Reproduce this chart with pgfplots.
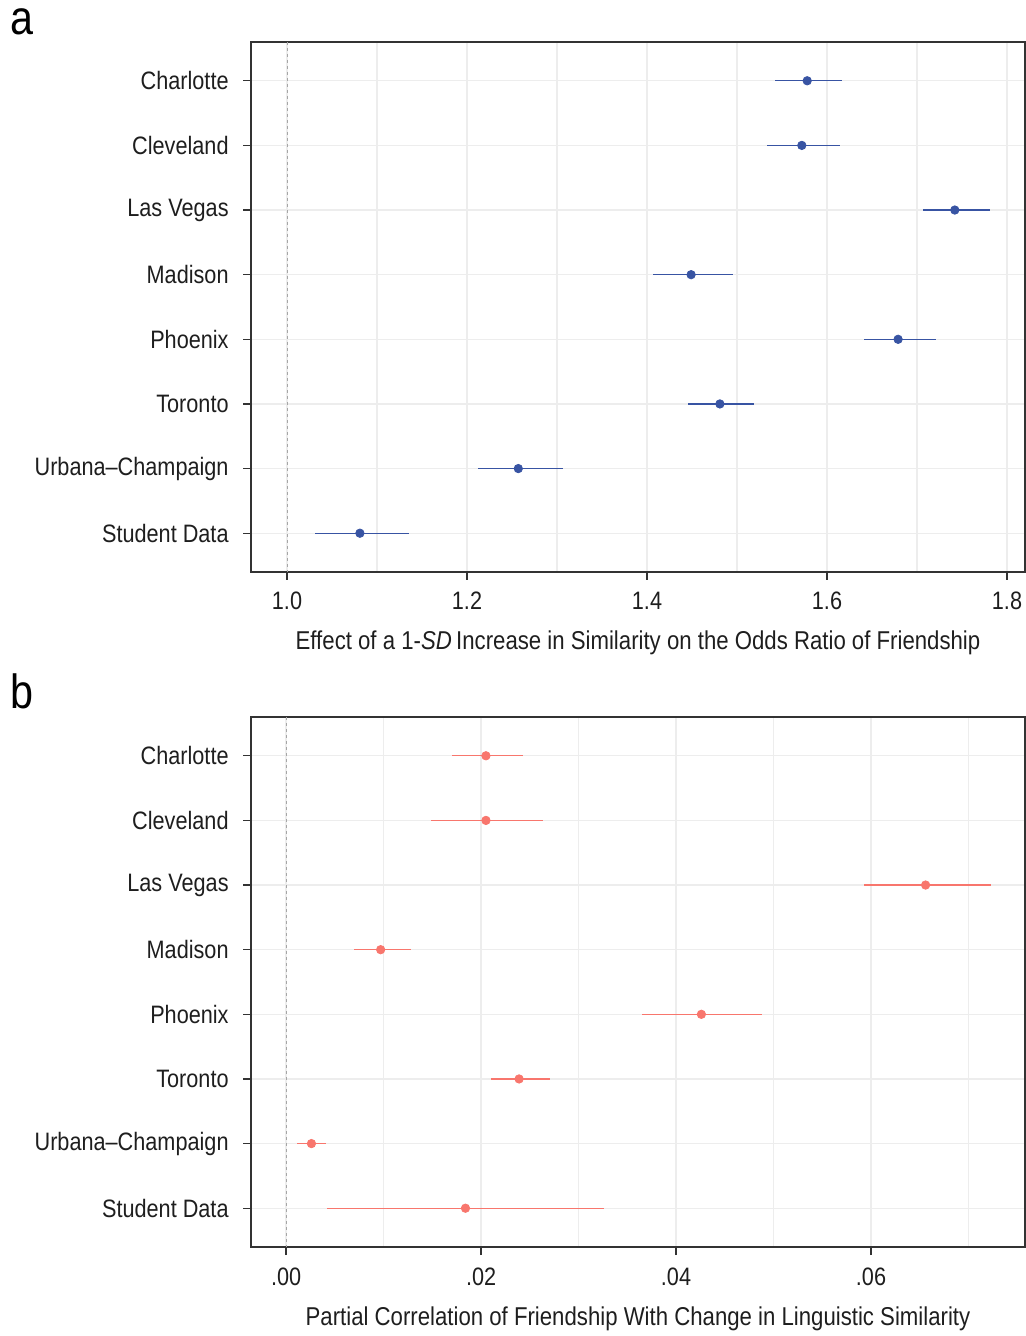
\documentclass[border=0pt]{standalone}
\usepackage{fontspec}
\setmainfont{Liberation Sans}[FakeStretch=0.86]
\usepackage{pgfplots}
\usepackage{pgfplotstable}
\pgfplotsset{compat=1.18}
\definecolor{ptblue}{RGB}{56,84,163}
\definecolor{ptred}{RGB}{248,118,109}
\definecolor{gridc}{RGB}{237,237,237}
\definecolor{txt}{RGB}{30,30,30}

\pgfplotstableread{
y x lo hi
1 1.578 1.542 1.617
2 1.572 1.533 1.614
3 1.742 1.707 1.781
4 1.449 1.407 1.496
5 1.679 1.641 1.721
6 1.481 1.446 1.519
7 1.257 1.212 1.307
8 1.081 1.031 1.136
}\tabA
\pgfplotstableread{
y x lo hi
1 0.0205 0.0170 0.0243
2 0.0205 0.0149 0.0264
3 0.0656 0.0593 0.0723
4 0.0097 0.0070 0.0128
5 0.0426 0.0365 0.0488
6 0.0239 0.0210 0.0271
7 0.0026 0.0011 0.0041
8 0.0184 0.0042 0.0326
}\tabB

\newcommand{\fs}{\fontsize{12.6pt}{15pt}\selectfont}
\newcommand{\fl}{\fontsize{12.9pt}{15pt}\selectfont}

\pgfplotsset{
  dotstyle/.style={
    scale only axis, width=387pt, height=265pt,
    anchor=south west,
    y dir=reverse, ymin=0.4, ymax=8.6,
    ytick={1,...,8},
    yticklabels={Charlotte,Cleveland,Las Vegas,Madison,Phoenix,Toronto,Urbana--Champaign,Student Data},
    scaled x ticks=false,
    tick align=outside, ytick pos=left, xtick pos=bottom,
    major tick length=4pt, minor tick length=0pt,
    every tick/.style={color=black!80, line width=0.6pt},
    grid=both,
    major grid style={gridc, line width=0.6pt},
    minor grid style={gridc, line width=0.6pt},
    axis line style={black!80, line width=0.6pt},
    tick label style={font=\fs, text=txt},
    yticklabel style={inner sep=0pt},
    xticklabel style={inner sep=0pt},
    yticklabel shift=7pt,
    xticklabel shift=6pt,
    label style={font=\fl, text=txt},
    xlabel style={at={(axis description cs:0.5,0)}, anchor=base, yshift=-39pt},
    clip=false,
  }
}

\begin{document}
\begin{tikzpicture}
\useasboundingbox (0,0) rectangle (513pt,668pt);
\node[anchor=base west, inner sep=0pt, font=\fontsize{24pt}{28pt}\selectfont, text=black] at (5pt,650.5pt) {a};
\node[anchor=base west, inner sep=0pt, font=\fontsize{24pt}{28pt}\selectfont, text=black] at (5pt,313.5pt) {b};

\begin{axis}[dotstyle, at={(125.5pt,382pt)},
  xmin=0.96, xmax=1.82,
  xtick={1.0,1.2,1.4,1.6,1.8},
  xticklabels={1.0,1.2,1.4,1.6,1.8},
  minor xtick={1.1,1.3,1.5,1.7},
  xlabel={Effect of a 1-\textit{SD}\,Increase in Similarity on the Odds Ratio of Friendship},
]
\addplot[gray!70, line width=0.5pt, dash pattern=on 1.5pt off 1.5pt] coordinates {(1,0.4) (1,8.6)};
\addplot[only marks, mark=*, mark size=2.1pt, color=ptblue,
  error bars/.cd, x dir=both, x explicit, error mark=none,
  error bar style={line width=0.6pt, color=ptblue}]
  table[x=x, y=y, x error plus expr=\thisrow{hi}-\thisrow{x}, x error minus expr=\thisrow{x}-\thisrow{lo}] {\tabA};
\end{axis}

\begin{axis}[dotstyle, at={(125.5pt,44.5pt)},
  xmin=-0.0036, xmax=0.0758,
  xtick={0,0.02,0.04,0.06},
  xticklabels={.00,.02,.04,.06},
  minor xtick={0.01,0.03,0.05,0.07},
  xlabel={Partial Correlation of Friendship With Change in Linguistic Similarity},
]
\addplot[gray!70, line width=0.5pt, dash pattern=on 1.5pt off 1.5pt] coordinates {(0,0.4) (0,8.6)};
\addplot[only marks, mark=*, mark size=2.1pt, color=ptred,
  error bars/.cd, x dir=both, x explicit, error mark=none,
  error bar style={line width=0.6pt, color=ptred}]
  table[x=x, y=y, x error plus expr=\thisrow{hi}-\thisrow{x}, x error minus expr=\thisrow{x}-\thisrow{lo}] {\tabB};
\end{axis}
\end{tikzpicture}
\end{document}
